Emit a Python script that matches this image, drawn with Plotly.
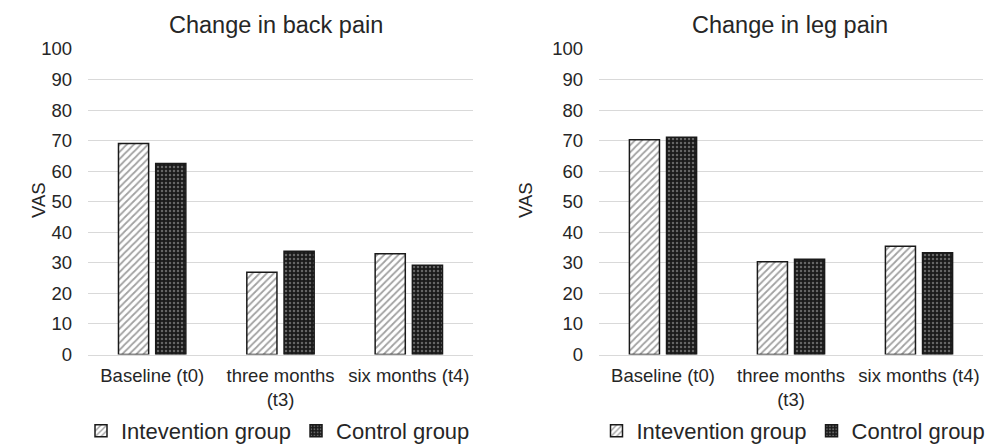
import plotly.graph_objects as go

categories = ["Baseline (t0)", "three months<br>(t3)", "six months (t4)"]
series_names = ["Intevention group", "Control group"]
back_intervention = [69.1, 26.9, 33.0]
back_control = [62.5, 33.8, 29.2]
leg_intervention = [70.3, 30.4, 35.4]
leg_control = [71.1, 31.2, 33.3]
y_ticks = list(range(0, 101, 10))
titles = ["Change in back pain", "Change in leg pain"]
y_title = "VAS"

FONT = "Arial, Liberation Sans, sans-serif"
TXT = "#262626"

int_marker = dict(color="white", line=dict(color="#1a1a1a", width=1.5),
                  pattern=dict(shape="/", fgcolor="#444444", bgcolor="white", size=5, solidity=0.35))
ctl_marker = dict(color="#1a1a1a", line=dict(color="#1a1a1a", width=1.5),
                  pattern=dict(shape=".", fgcolor="#b0b0b0", bgcolor="#1a1a1a", size=4, solidity=0.3))

fig = go.Figure()
fig.add_trace(go.Bar(x=categories, y=back_intervention, name=series_names[0], marker=int_marker,
                     xaxis="x", yaxis="y", legend="legend"))
fig.add_trace(go.Bar(x=categories, y=back_control, name=series_names[1], marker=ctl_marker,
                     xaxis="x", yaxis="y", legend="legend"))
fig.add_trace(go.Bar(x=categories, y=leg_intervention, name=series_names[0], marker=int_marker,
                     xaxis="x2", yaxis="y2", legend="legend2"))
fig.add_trace(go.Bar(x=categories, y=leg_control, name=series_names[1], marker=ctl_marker,
                     xaxis="x2", yaxis="y2", legend="legend2"))

W = 1000.0
H = 448.0
OFF = 8.0  # page body margin offset


def px_x(v):
    return (v - OFF) / W


def px_y(v):
    return 1 - (v - OFF) / H


xa = dict(showgrid=False, showline=True, linecolor="#d9d9d9", linewidth=1, ticks="",
          tickfont=dict(family=FONT, size=18.5, color=TXT), automargin=False,
          ticklabelstandoff=4, fixedrange=True)
ya = dict(range=[0, 100], tickvals=y_ticks, showgrid=True, gridcolor="#d9d9d9", gridwidth=1,
          zeroline=False, showline=False, ticks="", ticklabelstandoff=15,
          tickfont=dict(family=FONT, size=18.5, color=TXT), automargin=False, fixedrange=True)

legend_common = dict(orientation="h", font=dict(family=FONT, size=22, color=TXT),
                     yanchor="middle", y=px_y(431), xanchor="left",
                     bgcolor="rgba(0,0,0,0)", itemclick=False, itemdoubleclick=False,
                     tracegroupgap=0)

fig.update_layout(
    width=1000, height=448,
    margin=dict(l=0, r=0, t=0, b=0),
    paper_bgcolor="white", plot_bgcolor="white",
    barmode="group", bargap=0.42, bargroupgap=0.19,
    font=dict(family=FONT, color=TXT),
    xaxis=dict(domain=[px_x(88), px_x(473)], anchor="y", **xa),
    yaxis=dict(domain=[px_y(354.5), px_y(49)], anchor="x", **ya),
    xaxis2=dict(domain=[px_x(599), px_x(983)], anchor="y2", **xa),
    yaxis2=dict(domain=[px_y(354.5), px_y(49)], anchor="x2", **ya),
    legend=dict(x=px_x(81), **legend_common),
    legend2=dict(x=px_x(596.5), **legend_common),
    annotations=[
        dict(text=titles[0], x=px_x(275.5), y=px_y(25), xref="paper", yref="paper",
             showarrow=False, xanchor="center", yanchor="middle",
             font=dict(family=FONT, size=23.5, color=TXT)),
        dict(text=titles[1], x=px_x(790), y=px_y(25), xref="paper", yref="paper",
             showarrow=False, xanchor="center", yanchor="middle",
             font=dict(family=FONT, size=23.5, color=TXT)),
        dict(text=y_title, x=px_x(38), y=px_y(200), xref="paper", yref="paper",
             showarrow=False, xanchor="center", yanchor="middle", textangle=-90,
             font=dict(family=FONT, size=18.5, color=TXT)),
        dict(text=y_title, x=px_x(525), y=px_y(200), xref="paper", yref="paper",
             showarrow=False, xanchor="center", yanchor="middle", textangle=-90,
             font=dict(family=FONT, size=18.5, color=TXT)),
    ],
)

fig.write_html("out.html", config={"displayModeBar": False})
